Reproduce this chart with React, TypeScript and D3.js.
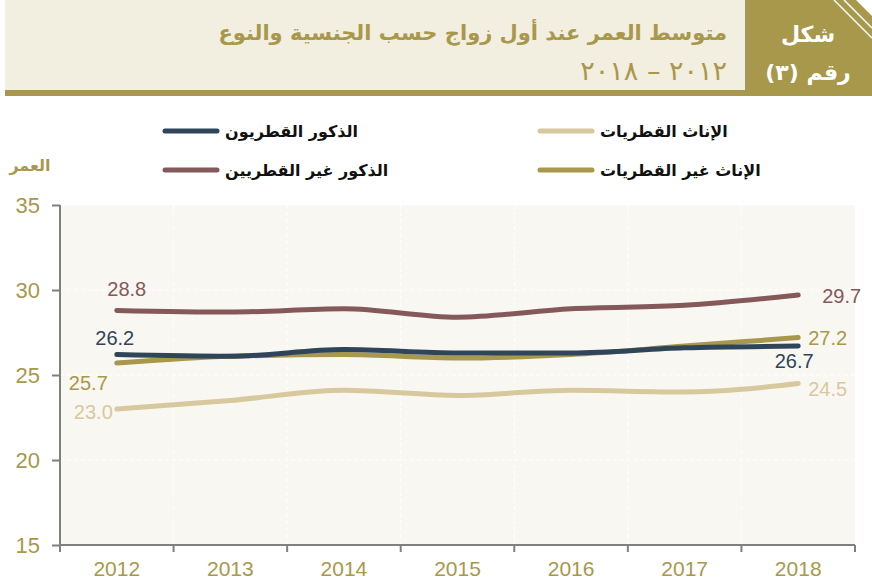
import { useEffect, useRef } from "react";
import * as d3 from "d3";

const years = ["2012", "2013", "2014", "2015", "2016", "2017", "2018"];
const qatariMales = [26.2, 26.1, 26.5, 26.3, 26.3, 26.6, 26.7];
const nonQatariMales = [28.8, 28.7, 28.9, 28.4, 28.9, 29.1, 29.7];
const qatariFemales = [23.0, 23.5, 24.1, 23.8, 24.1, 24.0, 24.5];
const nonQatariFemales = [25.7, 26.1, 26.2, 26.0, 26.2, 26.7, 27.2];
const yTicks = [15, 20, 25, 30, 35];

const title = "متوسط العمر عند أول زواج حسب الجنسية والنوع";
const subtitle = "٢٠١٢ – ٢٠١٨";
const figLabel = ["شكل", "رقم (٣)"];
const yTitle = "العمر";

const olive = "#a8984b";
const numFont = "'Liberation Sans', Arial, sans-serif";
const arFont = "'DejaVu Sans', 'Noto Sans', sans-serif";

// series with label placement (style only)
const series = [
  { name: "الذكور غير القطريين", values: nonQatariMales, color: "#85595a",
    first: { dx: 10, dy: -14, anchor: "middle" }, last: { dx: 24, dy: 8, anchor: "start" } },
  { name: "الإناث غير القطريات", values: nonQatariFemales, color: olive,
    first: { dx: -9, dy: 27, anchor: "end" }, last: { dx: 10, dy: 7, anchor: "start" } },
  { name: "الذكور القطريون", values: qatariMales, color: "#2f4559",
    first: { dx: -2, dy: -10, anchor: "middle" }, last: { dx: -4, dy: 22, anchor: "middle" } },
  { name: "الإناث القطريات", values: qatariFemales, color: "#d8c89e",
    first: { dx: -4, dy: 10, anchor: "end" }, last: { dx: 10, dy: 12, anchor: "start" } },
];

// legend order: [col, row]
const legendPos = [
  { s: 0, x: 165, y: 170 },
  { s: 1, x: 540, y: 170 },
  { s: 2, x: 165, y: 131 },
  { s: 3, x: 540, y: 131 },
];

export default function App() {
  const ref = useRef<SVGSVGElement>(null);

  useEffect(() => {
    const svg = d3.select(ref.current);
    svg.selectAll("*").remove();

    const left = 60, right = 855, top = 205, bottom = 545;
    const x = d3.scaleBand().domain(years).range([left, right]);
    const y = d3.scaleLinear().domain([15, 35]).range([bottom, top]);
    const cx = (yr: string) => (x(yr) as number) + x.bandwidth() / 2;

    // header
    svg.append("rect").attr("x", 5).attr("y", 0).attr("width", 740).attr("height", 90).attr("fill", "#f2eee0");
    svg.append("rect").attr("x", 5).attr("y", 90).attr("width", 867).attr("height", 6).attr("fill", olive);
    svg.append("rect").attr("x", 745).attr("y", 0).attr("width", 127).attr("height", 96).attr("fill", olive);
    svg.append("polygon").attr("points", "856,0 872,0 872,16").attr("fill", "#fff");
    svg.append("line").attr("x1", 844).attr("y1", 0).attr("x2", 872).attr("y2", 28).attr("stroke", "#fff").attr("stroke-width", 1.5);
    svg.append("line").attr("x1", 834).attr("y1", 0).attr("x2", 872).attr("y2", 38).attr("stroke", "#fff").attr("stroke-width", 1.5);

    svg.append("text").attr("x", 727).attr("y", 40).attr("direction", "rtl").attr("text-anchor", "start")
      .attr("font-family", arFont).attr("font-weight", "bold").attr("font-size", 21).attr("fill", olive).text(title);
    svg.append("text").attr("x", 727).attr("y", 80).attr("direction", "rtl").attr("text-anchor", "start")
      .attr("font-family", arFont).attr("font-size", 27).attr("fill", olive).text(subtitle);
    figLabel.forEach((t, i) => {
      svg.append("text").attr("x", 808).attr("y", 42 + i * 38).attr("direction", "rtl").attr("text-anchor", "middle")
        .attr("font-family", arFont).attr("font-weight", "bold").attr("font-size", 22).attr("fill", "#fff").text(t);
    });

    // legend
    legendPos.forEach(p => {
      const s = series[p.s];
      svg.append("line").attr("x1", p.x).attr("x2", p.x + 52).attr("y1", p.y).attr("y2", p.y)
        .attr("stroke", s.color).attr("stroke-width", 5).attr("stroke-linecap", "round");
      svg.append("text").attr("x", p.x + 60).attr("y", p.y + 6).attr("text-anchor", "start")
        .attr("font-family", arFont).attr("font-weight", "bold").attr("font-size", 16).attr("fill", "#111").text(s.name);
    });

    svg.append("text").attr("x", 30).attr("y", 171).attr("text-anchor", "middle")
      .attr("font-family", arFont).attr("font-weight", "bold").attr("font-size", 16).attr("fill", olive).text(yTitle);

    // plot area
    svg.append("rect").attr("x", left).attr("y", top).attr("width", right - left).attr("height", bottom - top).attr("fill", "#f9f7f2");
    const grid = svg.append("g").attr("stroke", "#fff").attr("stroke-width", 1).attr("stroke-dasharray", "4,3");
    yTicks.slice(1).forEach(t => {
      grid.append("line").attr("x1", left).attr("x2", right).attr("y1", y(t)).attr("y2", y(t));
    });
    years.slice(1).forEach(yr => {
      grid.append("line").attr("x1", x(yr) as number).attr("x2", x(yr) as number).attr("y1", top).attr("y2", bottom);
    });

    // axes
    const yAxis = svg.append("g").attr("transform", `translate(${left},0)`)
      .call(d3.axisLeft(y).tickValues(yTicks).tickSize(8).tickPadding(12));
    yAxis.select(".domain").attr("stroke", "#808080").attr("stroke-width", 2).attr("d", `M0,${top}V${bottom}`);
    yAxis.selectAll(".tick line").attr("stroke", "#808080").attr("stroke-width", 2);
    yAxis.selectAll(".tick text").attr("fill", olive).attr("font-family", numFont).attr("font-size", 22).attr("dy", "0.35em");

    const bounds = years.map(yr => x(yr) as number).concat([right]);
    const xg = svg.append("g");
    xg.append("line").attr("x1", left).attr("x2", right).attr("y1", bottom).attr("y2", bottom)
      .attr("stroke", "#808080").attr("stroke-width", 2);
    bounds.forEach(b => {
      xg.append("line").attr("x1", b).attr("x2", b).attr("y1", bottom).attr("y2", bottom + 7)
        .attr("stroke", "#808080").attr("stroke-width", 2);
    });
    years.forEach(yr => {
      xg.append("text").attr("x", cx(yr)).attr("y", 576).attr("text-anchor", "middle")
        .attr("fill", olive).attr("font-family", numFont).attr("font-size", 21).text(yr);
    });

    // lines
    const line = d3.line<number>().x((_, i) => cx(years[i])).y(d => y(d)).curve(d3.curveMonotoneX);
    series.forEach(s => {
      svg.append("path").attr("d", line(s.values)).attr("fill", "none").attr("stroke", s.color)
        .attr("stroke-width", 5).attr("stroke-linecap", "round").attr("stroke-linejoin", "round");
    });

    // labels
    series.forEach(s => {
      const n = s.values.length - 1;
      [[0, s.first], [n, s.last]].forEach(([i, p]: any) => {
        svg.append("text").attr("x", cx(years[i]) + p.dx).attr("y", y(s.values[i]) + p.dy)
          .attr("text-anchor", p.anchor).attr("fill", s.color)
          .attr("font-family", numFont).attr("font-size", 20)
          .text(s.values[i].toFixed(1));
      });
    });
  }, []);

  return (
    <div style={{ position: "absolute", left: 0, top: 0 }}>
      <svg ref={ref} width={872} height={583} />
    </div>
  );
}
